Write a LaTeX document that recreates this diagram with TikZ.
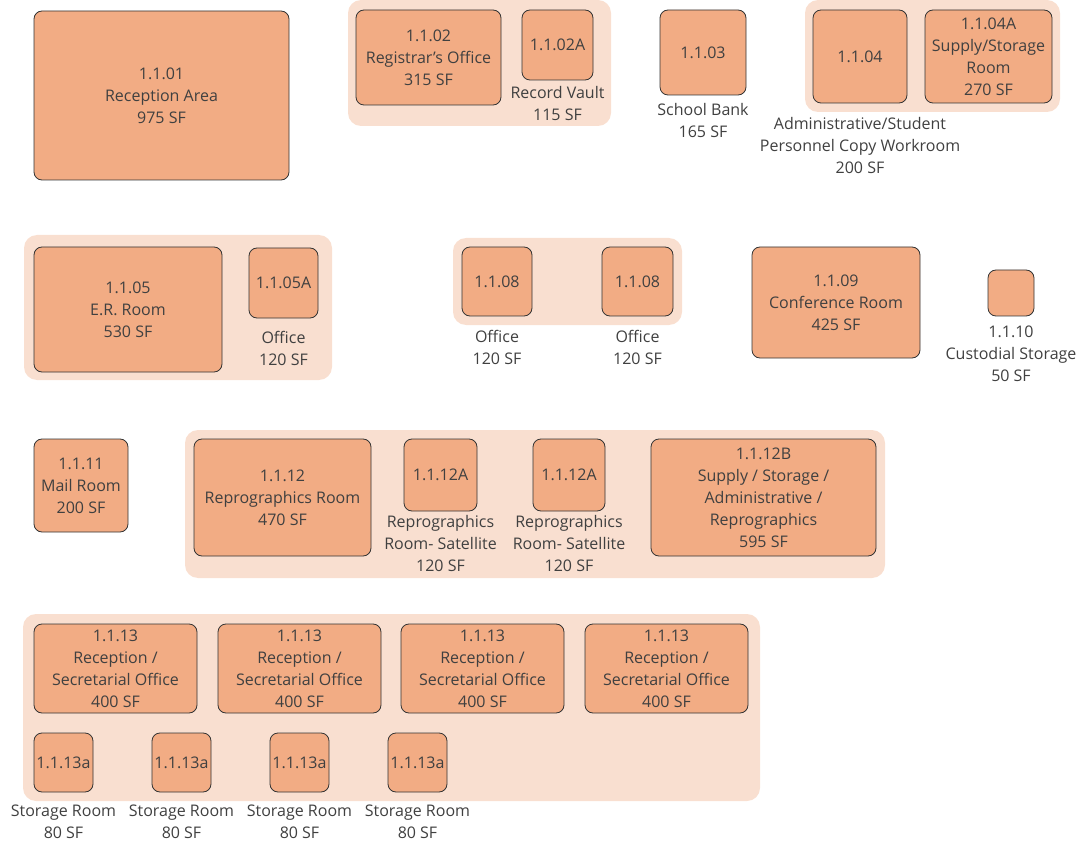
\documentclass[tikz,border=0pt]{standalone}
\usepackage{fontspec}
\setmainfont{Open Sans}
\usepackage{tikz}
\usetikzlibrary{positioning}

\definecolor{roomfill}{HTML}{F2AC84}
\definecolor{zonefill}{HTML}{F9DFD0}
\definecolor{inktext}{HTML}{404040}

\begin{document}
\begin{tikzpicture}[x=1pt,y=-1pt,font=\fontsize{16}{22}\selectfont,text=inktext,
  room node/.style={rectangle,rounded corners=8pt,fill=roomfill,draw=black!80,line width=0.8pt,align=center,inner sep=0pt},
  zone node/.style={rectangle,rounded corners=13pt,fill=zonefill,draw=none,inner sep=0pt},
  tag node/.style={align=center,inner sep=0pt}]

  \useasboundingbox (0,0) rectangle (1077,845);

  % zones behind the rooms
  \node[zone node,minimum width=263,minimum height=126] (z1) at (479.5,63) {};
  \node[zone node,minimum width=255,minimum height=112] (z2) at (932.5,56) {};
  \node[zone node,minimum width=308,minimum height=145] (z3) at (178,307.5) {};
  \node[zone node,minimum width=229,minimum height=87] (z4) at (567.5,281.5) {};
  \node[zone node,minimum width=700,minimum height=148] (z5) at (535,504) {};
  \node[zone node,minimum width=737,minimum height=187] (z6) at (391.5,707.5) {};

  % first row
  \node[room node,minimum width=255,minimum height=169] (r01) at (161.5,95.5) {1.1.01\\Reception Area\\975 SF};
  \node[room node,minimum width=145,minimum height=95] (r02) at (428.5,57.5) {1.1.02\\Registrar{\char"0027}s Office\\315 SF};
  \node[room node,minimum width=71,minimum height=70] (r02a) at (557.5,45) {1.1.02A};
  \node[tag node] (c02a) [below=6pt of r02a] {Record Vault\\115 SF};
  \node[room node,minimum width=86,minimum height=85] (r03) at (703,52.5) {1.1.03};
  \node[tag node] (c03) [below=8pt of r03] {School Bank\\165 SF};
  \node[room node,minimum width=94,minimum height=93] (r04) at (860,56.5) {1.1.04};
  \node[tag node] (c04) [below=14pt of r04] {Administrative/Student\\Personnel Copy Workroom\\200 SF};
  \node[room node,minimum width=127,minimum height=93] (r04a) at (988.5,56.5) {1.1.04A\\Supply/Storage\\Room\\270 SF};

  % second row
  \node[room node,minimum width=188,minimum height=125] (r05) at (128,309.5) {1.1.05\\E.R. Room\\530 SF};
  \node[room node,minimum width=69,minimum height=70] (r05a) at (283.5,283) {1.1.05A};
  \node[tag node] (c05a) [below=13pt of r05a] {Office\\120 SF};
  \node[room node,minimum width=70,minimum height=69] (r08a) at (497,281.5) {1.1.08};
  \node[tag node] (c08a) [below=14pt of r08a] {Office\\120 SF};
  \node[room node,minimum width=71,minimum height=69] (r08b) at (637.5,281.5) {1.1.08};
  \node[tag node] (c08b) [below=14pt of r08b] {Office\\120 SF};
  \node[room node,minimum width=168,minimum height=111] (r09) at (836,302.5) {1.1.09\\Conference Room\\425 SF};
  \node[room node,minimum width=46,minimum height=46] (r10) at (1011,293) {};
  \node[tag node] (c10) [below=9pt of r10] {1.1.10\\Custodial Storage\\50 SF};

  % third row
  \node[room node,minimum width=94,minimum height=93] (r11) at (81,485.5) {1.1.11\\Mail Room\\200 SF};
  \node[room node,minimum width=177,minimum height=117] (r12) at (282.5,497.5) {1.1.12\\Reprographics Room\\470 SF};
  \node[room node,minimum width=73,minimum height=72] (r12a) at (440.5,475) {1.1.12A};
  \node[tag node] (c12a) [below=4pt of r12a] {Reprographics\\Room- Satellite\\120 SF};
  \node[room node,minimum width=72,minimum height=72] (r12c) at (569,475) {1.1.12A};
  \node[tag node] (c12c) [below=4pt of r12c] {Reprographics\\Room- Satellite\\120 SF};
  \node[room node,minimum width=225,minimum height=117] (r12b) at (763.5,497.5) {1.1.12B\\Supply / Storage /\\Administrative /\\Reprographics\\595 SF};

  % fourth row
  \node[room node,minimum width=163,minimum height=89] (r13a) at (115.5,668.5) {1.1.13\\Reception /\\Secretarial Office\\400 SF};
  \node[room node,minimum width=163,minimum height=89] (r13b) at (299.5,668.5) {1.1.13\\Reception /\\Secretarial Office\\400 SF};
  \node[room node,minimum width=163,minimum height=89] (r13c) at (482.5,668.5) {1.1.13\\Reception /\\Secretarial Office\\400 SF};
  \node[room node,minimum width=163,minimum height=89] (r13d) at (666.5,668.5) {1.1.13\\Reception /\\Secretarial Office\\400 SF};

  \node[room node,minimum width=59,minimum height=59] (s13a) at (63.5,762.5) {1.1.13a};
  \node[tag node] (t13a) [below=12pt of s13a] {Storage Room\\80 SF};
  \node[room node,minimum width=59,minimum height=59] (s13b) at (181.5,762.5) {1.1.13a};
  \node[tag node] (t13b) [below=12pt of s13b] {Storage Room\\80 SF};
  \node[room node,minimum width=59,minimum height=59] (s13c) at (299.5,762.5) {1.1.13a};
  \node[tag node] (t13c) [below=12pt of s13c] {Storage Room\\80 SF};
  \node[room node,minimum width=59,minimum height=59] (s13d) at (417.5,762.5) {1.1.13a};
  \node[tag node] (t13d) [below=12pt of s13d] {Storage Room\\80 SF};

\end{tikzpicture}
\end{document}
